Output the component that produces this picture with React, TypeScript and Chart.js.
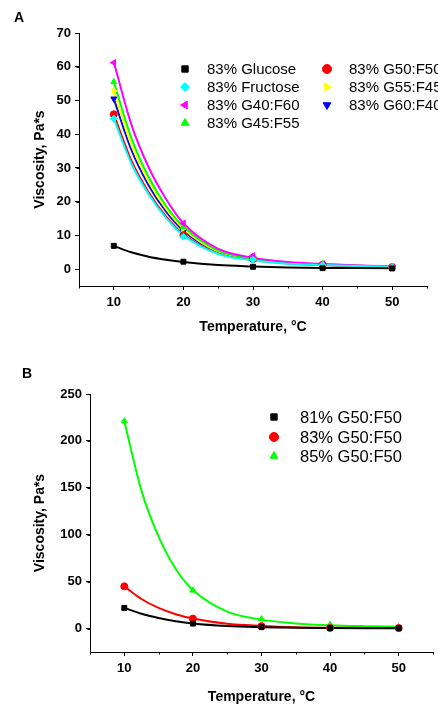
import React, { useEffect, useRef } from "react";
import { Chart, registerables } from "chart.js";
import { drawPoint } from "chart.js/helpers";

Chart.register(...registerables);

// Measured temperatures (markers)
const temperatures = [10, 20, 30, 40, 50];
const fitTemps = [10, 12.5, 15, 17.5, 20, 25, 30, 35, 40, 45, 50];

// Panel A (83% solutions) — measured points
const glucose83 = [6.9, 2.2, 0.7, 0.3, 0.2];
const fructose83 = [44.6, 9.6, 2.8, 1.2, 0.6];
const g40f60 = [61.2, 13.6, 4.0, 1.6, 0.7];
const g45f55 = [55.5, 12.6, 3.6, 1.5, 0.7];
const g50f50 = [45.9, 10.0, 3.0, 1.3, 0.6];
const g55f45 = [52.8, 12.0, 3.4, 1.4, 0.7];
const g60f40 = [50.5, 11.2, 3.2, 1.3, 0.6];

// Panel A — fit curves
const glucose83Fit = [6.9, 5.0, 3.7, 2.8, 2.1, 1.2, 0.8, 0.5, 0.35, 0.3, 0.25];
const fructose83Fit = [44.6, 31.4, 22.2, 15.2, 10.0, 4.5, 2.6, 1.6, 1.2, 0.9, 0.7];
const g40f60Fit = [61.3, 43.0, 30.2, 20.8, 13.6, 6.0, 3.4, 2.1, 1.5, 1.1, 0.8];
const g45f55Fit = [55.5, 39.0, 27.3, 18.8, 12.6, 5.5, 3.1, 1.9, 1.4, 1.0, 0.8];
const g50f50Fit = [45.9, 32.3, 22.8, 15.6, 10.3, 4.6, 2.7, 1.7, 1.2, 0.9, 0.7];
const g55f45Fit = [52.8, 37.0, 26.0, 17.9, 12.0, 5.2, 3.0, 1.8, 1.3, 1.0, 0.8];
const g60f40Fit = [50.5, 35.5, 24.9, 17.1, 11.4, 5.0, 2.9, 1.8, 1.3, 1.0, 0.7];
const yTicksA = [0, 10, 20, 30, 40, 50, 60, 70];

// Panel B (G50:F50 at different concentrations) — measured points
const b81 = [22.0, 5.3, 1.5, 0.5, 0.3];
const b83 = [45.0, 10.6, 2.6, 0.6, 0.5];
const b85 = [221.0, 40.7, 10.0, 4.0, 1.8];
// Panel B — fit curves
const b81Fit = [22.0, 15.8, 11.3, 7.8, 5.3, 2.6, 1.5, 0.9, 0.6, 0.4, 0.3];
const b83Fit = [45.0, 31.5, 22.0, 15.2, 10.6, 5.0, 2.8, 1.5, 0.9, 0.6, 0.5];
const b85Fit = [221.0, 147.0, 98.0, 63.5, 41.0, 18.0, 9.5, 5.5, 3.5, 2.5, 1.9];
const yTicksB = [0, 50, 100, 150, 200, 250];

const xTicks = [10, 20, 30, 40, 50];

const FONT = "'Liberation Sans', Arial, sans-serif";

type SeriesDef = {
  label: string;
  data: number[];
  fit: number[];
  color: string;
  style: string;
  rotation: number;
};

const seriesA: SeriesDef[] = [
  { label: "83% Glucose", data: glucose83, fit: glucose83Fit, color: "#000000", style: "rect", rotation: 0 },
  { label: "83% Fructose", data: fructose83, fit: fructose83Fit, color: "#00FFFF", style: "rectRot", rotation: 0 },
  { label: "83% G40:F60", data: g40f60, fit: g40f60Fit, color: "#FF00FF", style: "triangle", rotation: 270 },
  { label: "83% G45:F55", data: g45f55, fit: g45f55Fit, color: "#00FF00", style: "triangle", rotation: 0 },
  { label: "83% G50:F50", data: g50f50, fit: g50f50Fit, color: "#FF0000", style: "circle", rotation: 0 },
  { label: "83% G55:F45", data: g55f45, fit: g55f45Fit, color: "#FFFF00", style: "triangle", rotation: 90 },
  { label: "83% G60:F40", data: g60f40, fit: g60f40Fit, color: "#0000FF", style: "triangle", rotation: 180 },
];

const seriesB: SeriesDef[] = [
  { label: "81% G50:F50", data: b81, fit: b81Fit, color: "#000000", style: "rect", rotation: 0 },
  { label: "83% G50:F50", data: b83, fit: b83Fit, color: "#FF0000", style: "circle", rotation: 0 },
  { label: "85% G50:F50", data: b85, fit: b85Fit, color: "#00FF00", style: "triangle", rotation: 0 },
];

type PanelCfg = {
  series: SeriesDef[];
  yMin: number;
  yMax: number;
  yTicks: number[];
  yMinorStep: number;
  chartLeft: number;
  chartTop: number;
  chartRight: number;
  chartBottom: number;
  height: number;
  titleCenterY: number;
  legend: { x: number; y: number; idx: number }[];
  legendText: number;
  legendFont: number;
};

function makeChart(canvas: HTMLCanvasElement, cfg: PanelCfg) {
  const titleLine = 14 * 1.2;
  const scaleLeft = 40 - titleLine / 2;
  const scaleBottom = cfg.titleCenterY + titleLine / 2;

  const minorPlugin = {
    id: "minorTicks",
    afterDraw(chart: any) {
      const ctx = chart.ctx;
      const xs = chart.scales.x;
      const ys = chart.scales.y;
      const area = chart.chartArea;
      ctx.save();
      ctx.strokeStyle = "#000";
      ctx.lineWidth = 1;
      ctx.beginPath();
      for (let v = 5; v <= 55; v += 10) {
        const px = Math.round(xs.getPixelForValue(v)) + 0.5;
        ctx.moveTo(px, area.bottom);
        ctx.lineTo(px, area.bottom + 2.5);
      }
      for (let v = cfg.yMin; v <= cfg.yMax; v += cfg.yMinorStep * 2) {
        const py = Math.round(ys.getPixelForValue(v + cfg.yMinorStep)) + 0.5;
        if (v + cfg.yMinorStep < cfg.yMax) {
          ctx.moveTo(area.left, py);
          ctx.lineTo(area.left - 2.5, py);
        }
      }
      ctx.stroke();
      // legend
      ctx.font = `${cfg.legendFont}px ${FONT}`;
      ctx.textBaseline = "middle";
      ctx.textAlign = "left";
      cfg.legend.forEach((item) => {
        const s = cfg.series[item.idx];
        ctx.fillStyle = s.color;
        ctx.strokeStyle = s.color;
        drawPoint(
          ctx,
          { pointStyle: s.style as any, rotation: s.rotation, radius: 4.5, borderWidth: 1 },
          item.x,
          item.y
        );
        ctx.fillStyle = "#000";
        ctx.fillText(s.label, item.x + cfg.legendText, item.y + 1);
      });
      ctx.restore();
    },
  };

  const lineSets = cfg.series.map((s) => ({
    label: s.label + " fit",
    data: fitTemps.map((t, i) => ({ x: t, y: s.fit[i] })),
    borderColor: s.color,
    backgroundColor: s.color,
    pointRadius: 0,
    borderWidth: 2,
    cubicInterpolationMode: "monotone" as const,
    fill: false,
    order: 1,
  }));
  const markerSets = cfg.series.map((s) => ({
    label: s.label,
    data: temperatures.map((t, i) => ({ x: t, y: s.data[i] })),
    borderColor: s.color,
    backgroundColor: s.color,
    pointStyle: s.style as any,
    rotation: s.rotation,
    pointRadius: 3.5,
    pointBorderWidth: 1,
    showLine: false,
    fill: false,
    order: 0,
  }));

  return new Chart(canvas, {
    type: "line",
    data: {
      datasets: [...lineSets, ...markerSets] as any,
    },
    options: {
      animation: false,
      responsive: false,
      events: [],
      layout: {
        padding: {
          left: scaleLeft,
          top: cfg.chartTop,
          right: 438 - cfg.chartRight,
          bottom: cfg.height - scaleBottom,
        },
      },
      plugins: { legend: { display: false }, tooltip: { enabled: false } },
      scales: {
        x: {
          type: "linear",
          min: 5,
          max: 55,
          afterFit(scale: any) {
            scale.height = scaleBottom - cfg.chartBottom;
          },
          afterBuildTicks(scale: any) {
            scale.ticks = xTicks.map((v) => ({ value: v }));
          },
          grid: { drawOnChartArea: false, drawTicks: true, tickLength: 4, color: "#000", lineWidth: 1 },
          border: { display: true, color: "#000", width: 1 },
          ticks: {
            color: "#000",
            font: { family: FONT, size: 13, weight: "bold" },
            padding: 5,
            maxRotation: 0,
            autoSkip: false,
          },
          title: {
            display: true,
            text: "Temperature, °C",
            color: "#000",
            font: { family: FONT, size: 14, weight: "bold" },
            padding: 0,
          },
        },
        y: {
          type: "linear",
          min: cfg.yMin,
          max: cfg.yMax,
          afterFit(scale: any) {
            scale.width = cfg.chartLeft - scaleLeft;
          },
          afterBuildTicks(scale: any) {
            scale.ticks = cfg.yTicks.map((v) => ({ value: v }));
          },
          grid: { drawOnChartArea: false, drawTicks: true, tickLength: 4, color: "#000", lineWidth: 1 },
          border: { display: true, color: "#000", width: 1 },
          ticks: {
            color: "#000",
            font: { family: FONT, size: 13, weight: "bold" },
            padding: 4,
            autoSkip: false,
          },
          title: {
            display: true,
            text: "Viscosity, Pa*s",
            color: "#000",
            font: { family: FONT, size: 14, weight: "bold" },
            padding: 0,
          },
        },
      },
    },
    plugins: [minorPlugin],
  });
}

const cfgA: PanelCfg = {
  series: seriesA,
  yMin: -5,
  yMax: 70,
  yTicks: yTicksA,
  yMinorStep: 5,
  chartLeft: 79,
  chartTop: 33,
  chartRight: 427,
  chartBottom: 286,
  height: 345,
  titleCenterY: 327,
  legend: [
    { x: 185, y: 69, idx: 0 },
    { x: 185, y: 87, idx: 1 },
    { x: 185, y: 105, idx: 2 },
    { x: 185, y: 123, idx: 3 },
    { x: 327, y: 69, idx: 4 },
    { x: 327, y: 87, idx: 5 },
    { x: 327, y: 105, idx: 6 },
  ],
  legendText: 22,
  legendFont: 15,
};

const cfgB: PanelCfg = {
  series: seriesB,
  yMin: -25,
  yMax: 250,
  yTicks: yTicksB,
  yMinorStep: 25,
  chartLeft: 90,
  chartTop: 49,
  chartRight: 437,
  chartBottom: 307,
  height: 364,
  titleCenterY: 352,
  legend: [
    { x: 274, y: 72, idx: 0 },
    { x: 274, y: 92, idx: 1 },
    { x: 274, y: 111, idx: 2 },
  ],
  legendText: 26,
  legendFont: 16.5,
};

export default function App() {
  const refA = useRef<HTMLCanvasElement>(null);
  const refB = useRef<HTMLCanvasElement>(null);

  useEffect(() => {
    const a = makeChart(refA.current!, cfgA);
    const b = makeChart(refB.current!, cfgB);
    return () => {
      a.destroy();
      b.destroy();
    };
  }, []);

  const labelStyle: React.CSSProperties = {
    position: "absolute",
    fontFamily: FONT,
    fontWeight: "bold",
    fontSize: 14,
    lineHeight: "14px",
    color: "#000",
  };

  return (
    <div style={{ position: "absolute", left: 0, top: 0, width: 438, height: 709, background: "#fff", overflow: "hidden" }}>
      <canvas ref={refA} width={438} height={345} style={{ position: "absolute", left: 0, top: 0, width: 438, height: 345 }} />
      <canvas ref={refB} width={438} height={364} style={{ position: "absolute", left: 0, top: 345, width: 438, height: 364 }} />
      <div style={{ ...labelStyle, left: 14, top: 10 }}>A</div>
      <div style={{ ...labelStyle, left: 22, top: 366 }}>B</div>
    </div>
  );
}
